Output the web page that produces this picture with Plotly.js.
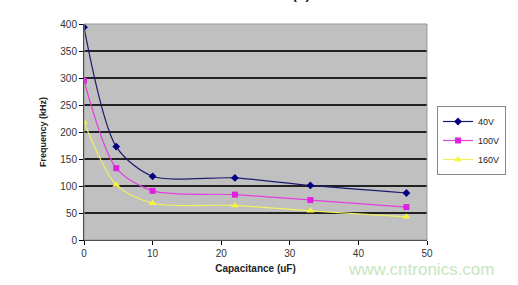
<!DOCTYPE html>
<html><head><meta charset="utf-8">
<script src="https://cdn.plot.ly/plotly-3.0.1.min.js"></script>
<style>html,body{margin:0;padding:0;background:#fff;}#c{width:518px;height:285px;}</style>
</head><body><div id="c"></div>
<script>
const capacitance = [0, 4.7, 10, 22, 33, 47];
const f40V  = [394, 173, 118, 115, 101, 87];
const f100V = [295, 133, 91, 84, 74, 61];
const f160V = [218, 102, 68, 64, 54, 43];
const seriesNames = ['40V', '100V', '160V'];

const traces = [
  {x: capacitance, y: f40V, name: seriesNames[0], mode: 'lines+markers',
   line: {color: '#1a1a6e', width: 1.2, shape: 'spline', smoothing: 0.8},
   marker: {symbol: 'diamond', size: 6, color: '#000080'}},
  {x: capacitance, y: f100V, name: seriesNames[1], mode: 'lines+markers',
   line: {color: '#e040e0', width: 1.2, shape: 'spline', smoothing: 0.8},
   marker: {symbol: 'square', size: 6, color: '#e020e0'}},
  {x: capacitance, y: f160V, name: seriesNames[2], mode: 'lines+markers',
   line: {color: '#f0f060', width: 1.2, shape: 'spline', smoothing: 0.8},
   marker: {symbol: 'triangle-up', size: 7, color: '#f5f540'}}
];

const layout = {
  width: 518, height: 285,
  margin: {l: 84, r: 91, t: 24, b: 45},
  paper_bgcolor: '#ffffff',
  plot_bgcolor: '#c0c0c0',
  font: {family: 'Liberation Sans, Arial, sans-serif', size: 10, color: '#222'},
  showlegend: true,
  legend: {x: 437/518, y: 1 - 106/285, xanchor: 'left', yanchor: 'top',
    xref: 'container', yref: 'container',
    bordercolor: '#888', borderwidth: 1, bgcolor: '#ffffff',
    font: {size: 9, color: '#222'}, tracegroupgap: 0, itemwidth: 30},
  xaxis: {range: [0, 50], dtick: 10, tick0: 0, showgrid: false, zeroline: false,
    showline: true, linecolor: '#000', linewidth: 1, ticks: 'outside', ticklen: 4,
    tickcolor: '#000', tickfont: {size: 10, color: '#333'},
    title: {text: '<b>Capacitance (uF)</b>', font: {size: 10, color: '#222'}, standoff: 6},
    mirror: false},
  yaxis: {range: [0, 400], dtick: 50, tick0: 0, showgrid: true, gridcolor: '#222',
    gridwidth: 1.2, zeroline: false, showline: true, linecolor: '#000', linewidth: 1,
    ticks: 'outside', ticklen: 4, tickcolor: '#000', tickfont: {size: 10, color: '#333'},
    title: {text: '<b>Frequency (kHz)</b>', font: {size: 9, color: '#222'}, standoff: 12}},
  shapes: [{type: 'rect', xref: 'paper', yref: 'paper', x0: 0, x1: 1, y0: 0, y1: 1,
    line: {color: '#999', width: 1}, fillcolor: 'rgba(0,0,0,0)'}],
  annotations: [
    {text: '<b>Vin (V)</b>', xref: 'paper', yref: 'paper', x: 0.6, y: 1, yshift: 20,
     showarrow: false, font: {size: 13, color: '#111'}, yanchor: 'bottom'},
    {text: 'www.cntronics.com', xref: 'paper', yref: 'paper', x: 1.2, y: 0, yshift: -41,
     xanchor: 'right', yanchor: 'bottom', showarrow: false, font: {size: 17, color: '#c8e6c0'}}
  ]
};
Plotly.newPlot('c', traces, layout, {displayModeBar: false, staticPlot: true});
</script></body></html>
